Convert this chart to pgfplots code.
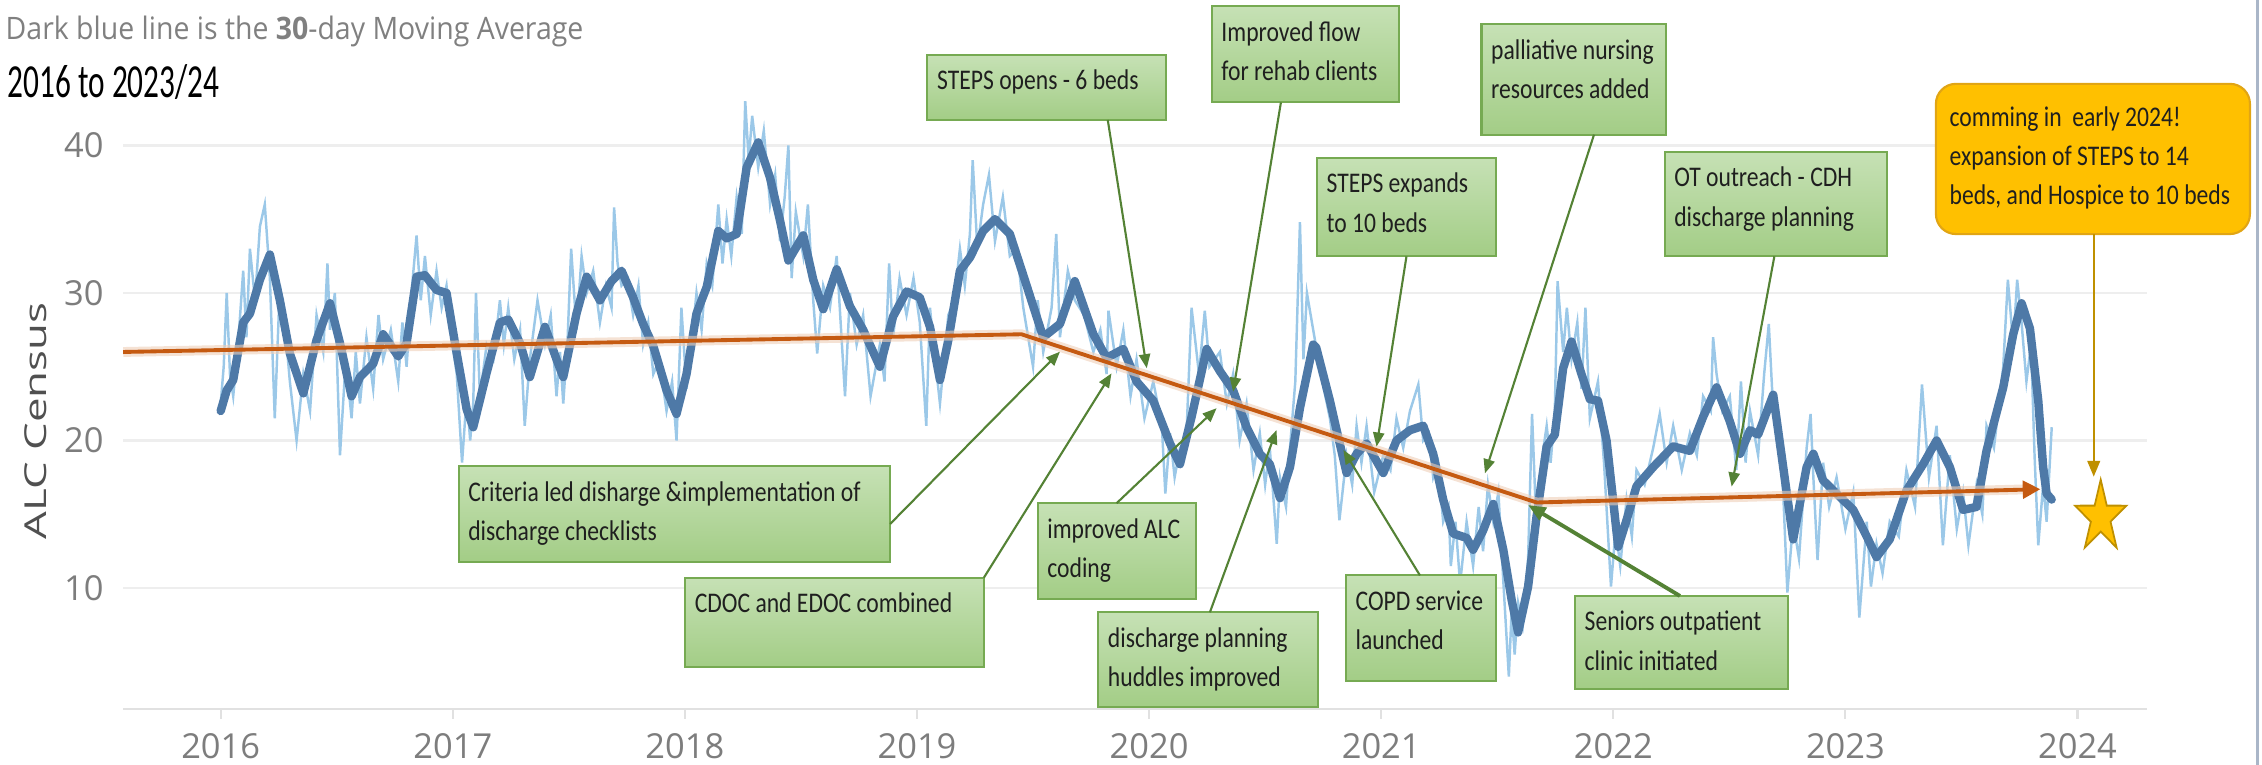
\documentclass[border=0pt]{standalone}
\usepackage{fontspec}
\usepackage{graphicx}
\usepackage{pgfplots}
\pgfplotsset{compat=1.18}
\usepackage{pgfplotstable}
\usetikzlibrary{arrows.meta}
\setmainfont{Open Sans}
\newfontfamily\annot[FakeStretch=0.83]{Carlito}
\newfontfamily\condfont[FakeStretch=0.66]{Carlito}
\newfontfamily\subfont[FakeStretch=0.92]{Open Sans}

\definecolor{mablue}{RGB}{78,121,167}
\definecolor{ltblue}{RGB}{155,200,232}
\definecolor{trend}{RGB}{197,90,17}
\definecolor{garr}{RGB}{84,130,53}
\definecolor{gborder}{RGB}{118,170,82}
\definecolor{gtop}{RGB}{198,225,181}
\definecolor{gbot}{RGB}{163,205,134}
\definecolor{goldc}{RGB}{191,144,0}
\definecolor{amber}{RGB}{255,192,0}
\definecolor{ticklab}{RGB}{125,125,125}
\definecolor{gridc}{RGB}{238,238,238}
\definecolor{axc}{RGB}{225,225,225}

\pgfplotstableread{
t v
2016.000 22.0
2016.026 23.4
2016.054 24.1
2016.097 28.0
2016.126 28.6
2016.169 30.9
2016.212 32.6
2016.255 29.5
2016.298 25.9
2016.356 23.2
2016.413 26.8
2016.471 29.3
2016.514 26.6
2016.564 23.0
2016.600 24.3
2016.657 25.2
2016.700 27.2
2016.765 25.7
2016.801 26.6
2016.844 31.1
2016.880 31.2
2016.930 30.2
2016.973 30.0
2017.017 25.9
2017.060 22.1
2017.088 20.9
2017.146 24.6
2017.203 28.0
2017.239 28.2
2017.290 26.6
2017.332 24.3
2017.397 27.7
2017.447 25.5
2017.476 24.3
2017.533 28.6
2017.577 31.1
2017.634 29.5
2017.684 30.8
2017.727 31.5
2017.777 29.7
2017.820 27.9
2017.864 26.4
2017.921 23.4
2017.964 21.8
2018.007 24.5
2018.050 28.6
2018.094 30.4
2018.144 34.2
2018.180 33.7
2018.223 34.0
2018.266 38.5
2018.316 40.2
2018.367 37.8
2018.410 34.9
2018.446 32.2
2018.510 33.9
2018.553 30.9
2018.596 28.9
2018.654 31.6
2018.711 29.1
2018.768 27.5
2018.840 25.0
2018.897 28.4
2018.955 30.1
2019.012 29.7
2019.056 27.7
2019.099 24.1
2019.135 26.8
2019.185 31.5
2019.228 32.4
2019.285 34.2
2019.336 35.0
2019.400 34.0
2019.458 31.2
2019.544 27.0
2019.616 27.9
2019.680 30.8
2019.760 27.2
2019.817 25.6
2019.889 26.2
2019.946 24.0
2020.018 22.7
2020.090 19.8
2020.133 18.4
2020.183 21.6
2020.248 26.2
2020.305 24.7
2020.362 23.4
2020.420 20.9
2020.477 19.1
2020.520 18.4
2020.564 16.1
2020.607 18.2
2020.650 22.2
2020.707 26.5
2020.720 26.3
2020.779 22.7
2020.808 20.7
2020.851 17.8
2020.894 19.1
2020.937 19.8
2021.009 17.8
2021.066 20.0
2021.124 20.7
2021.181 21.0
2021.224 19.1
2021.267 16.0
2021.310 13.7
2021.368 13.4
2021.396 12.6
2021.439 13.9
2021.483 15.7
2021.526 12.6
2021.562 9.2
2021.590 7.0
2021.633 10.1
2021.669 14.8
2021.713 19.6
2021.748 20.4
2021.784 24.9
2021.820 26.7
2021.863 24.5
2021.899 22.8
2021.934 22.7
2021.971 20.0
2021.999 16.0
2022.021 12.8
2022.057 14.6
2022.100 16.9
2022.172 18.2
2022.258 19.6
2022.330 19.3
2022.387 21.6
2022.445 23.6
2022.502 21.3
2022.546 19.1
2022.589 20.7
2022.624 20.4
2022.689 23.1
2022.732 18.2
2022.775 13.3
2022.833 18.2
2022.862 19.1
2022.904 17.3
2022.962 16.4
2023.034 15.3
2023.092 13.5
2023.134 12.1
2023.191 13.3
2023.263 16.6
2023.335 18.4
2023.393 20.0
2023.450 18.2
2023.507 15.3
2023.565 15.5
2023.608 19.3
2023.680 23.6
2023.723 27.2
2023.759 29.3
2023.795 27.6
2023.831 22.7
2023.852 18.2
2023.867 16.4
2023.889 16.0
}\matab

\pgfplotstableread{
t v
2016.000 22.5
2016.013 25.0
2016.026 30.0
2016.040 24.5
2016.054 23.0
2016.075 26.5
2016.097 31.5
2016.111 27.0
2016.126 33.0
2016.148 29.5
2016.169 34.5
2016.190 36.0
2016.212 31.0
2016.233 21.5
2016.255 30.5
2016.276 28.0
2016.298 24.0
2016.327 20.0
2016.356 24.5
2016.385 22.0
2016.413 28.5
2016.442 26.0
2016.460 32.0
2016.471 27.5
2016.492 30.0
2016.514 19.0
2016.539 25.5
2016.564 21.5
2016.582 26.0
2016.600 22.5
2016.628 27.0
2016.657 23.5
2016.680 28.5
2016.700 25.5
2016.733 27.5
2016.765 24.0
2016.783 28.0
2016.801 25.0
2016.822 30.0
2016.844 33.9
2016.862 29.5
2016.880 32.5
2016.905 28.5
2016.930 31.5
2016.952 29.0
2016.973 30.5
2016.995 27.0
2017.017 24.5
2017.040 18.5
2017.060 23.0
2017.075 20.0
2017.088 22.5
2017.100 30.0
2017.117 23.0
2017.146 26.5
2017.175 25.5
2017.203 29.5
2017.220 26.5
2017.239 29.0
2017.265 25.5
2017.290 27.5
2017.310 21.0
2017.332 25.5
2017.365 29.5
2017.397 26.5
2017.422 28.5
2017.447 23.0
2017.462 26.0
2017.476 22.5
2017.495 27.0
2017.510 33.0
2017.533 27.5
2017.555 32.5
2017.577 30.0
2017.605 31.5
2017.634 28.0
2017.660 30.5
2017.684 29.0
2017.695 35.8
2017.710 32.0
2017.727 30.5
2017.752 31.0
2017.777 28.5
2017.800 30.5
2017.820 26.5
2017.842 28.0
2017.864 24.5
2017.890 25.5
2017.921 22.0
2017.945 24.0
2017.964 20.0
2017.985 29.0
2018.007 23.5
2018.028 26.5
2018.050 30.0
2018.072 27.5
2018.094 32.0
2018.118 30.5
2018.144 36.0
2018.162 32.0
2018.180 35.0
2018.200 32.5
2018.223 36.5
2018.245 34.0
2018.260 43.0
2018.275 39.0
2018.290 42.0
2018.316 38.5
2018.340 41.0
2018.367 36.0
2018.389 38.0
2018.410 33.5
2018.430 36.5
2018.446 40.0
2018.460 31.0
2018.478 35.5
2018.510 32.5
2018.530 36.0
2018.553 29.5
2018.570 25.9
2018.596 30.5
2018.625 29.0
2018.654 32.5
2018.690 23.0
2018.711 30.0
2018.740 26.5
2018.768 28.5
2018.800 23.0
2018.840 26.5
2018.860 24.0
2018.880 32.0
2018.897 27.0
2018.925 31.0
2018.955 28.5
2018.985 31.0
2019.012 28.0
2019.040 21.0
2019.056 29.0
2019.078 25.5
2019.099 22.5
2019.117 25.5
2019.135 28.5
2019.160 29.5
2019.185 33.0
2019.206 30.5
2019.228 34.0
2019.240 39.0
2019.260 33.0
2019.285 36.0
2019.310 38.0
2019.336 33.5
2019.370 36.5
2019.400 32.5
2019.430 33.0
2019.458 29.0
2019.500 25.0
2019.520 29.5
2019.544 26.0
2019.580 29.0
2019.600 34.0
2019.616 27.0
2019.650 31.5
2019.680 29.5
2019.720 28.5
2019.760 26.0
2019.790 27.5
2019.817 24.5
2019.825 28.8
2019.860 25.0
2019.889 27.5
2019.920 23.0
2019.946 25.5
2019.980 21.5
2020.018 24.0
2020.055 21.0
2020.070 16.4
2020.090 20.5
2020.110 17.5
2020.133 19.5
2020.160 20.0
2020.183 29.0
2020.215 24.5
2020.240 28.8
2020.260 25.0
2020.305 26.0
2020.335 22.5
2020.362 24.5
2020.390 20.0
2020.420 22.5
2020.450 18.0
2020.477 20.5
2020.500 17.0
2020.520 19.5
2020.550 13.0
2020.564 17.5
2020.590 15.5
2020.607 19.5
2020.630 24.0
2020.650 34.8
2020.665 25.5
2020.680 30.0
2020.707 27.5
2020.740 24.5
2020.779 21.5
2020.800 19.0
2020.820 14.6
2020.851 19.0
2020.875 17.0
2020.894 21.0
2020.915 18.5
2020.937 21.0
2020.970 16.5
2021.009 19.0
2021.040 18.0
2021.066 21.5
2021.095 19.5
2021.124 22.0
2021.160 23.8
2021.181 20.0
2021.205 20.5
2021.224 17.5
2021.245 18.5
2021.267 14.5
2021.290 15.5
2021.300 11.5
2021.320 14.5
2021.340 10.3
2021.368 14.5
2021.396 11.5
2021.420 15.5
2021.439 12.5
2021.460 17.0
2021.483 14.5
2021.505 16.5
2021.526 10.5
2021.550 4.0
2021.562 8.5
2021.575 5.5
2021.590 9.0
2021.610 7.5
2021.633 12.0
2021.650 21.8
2021.669 14.0
2021.690 18.5
2021.713 21.0
2021.730 18.5
2021.748 22.0
2021.760 30.8
2021.784 26.0
2021.800 29.0
2021.820 25.5
2021.845 28.0
2021.863 23.5
2021.880 29.0
2021.899 21.5
2021.934 24.0
2021.960 18.5
2021.990 10.1
2022.010 14.0
2022.030 11.5
2022.057 16.0
2022.080 13.5
2022.100 18.0
2022.135 17.0
2022.172 19.5
2022.200 21.8
2022.230 18.5
2022.258 21.0
2022.295 18.0
2022.330 20.5
2022.360 19.0
2022.387 23.0
2022.420 22.0
2022.430 27.0
2022.445 24.5
2022.470 22.0
2022.502 23.0
2022.530 18.0
2022.550 24.0
2022.570 18.5
2022.589 22.0
2022.624 19.0
2022.650 24.5
2022.670 27.9
2022.689 22.0
2022.710 20.5
2022.732 16.5
2022.750 9.7
2022.775 14.5
2022.800 12.0
2022.833 19.5
2022.850 21.8
2022.862 17.5
2022.880 11.9
2022.904 18.5
2022.930 15.5
2022.962 17.5
2023.000 14.0
2023.034 16.5
2023.060 8.0
2023.092 14.5
2023.110 10.1
2023.134 13.0
2023.160 11.0
2023.191 14.5
2023.230 13.5
2023.263 18.0
2023.300 15.5
2023.330 23.8
2023.360 17.5
2023.393 21.0
2023.420 12.9
2023.450 19.0
2023.480 14.0
2023.507 16.5
2023.530 12.9
2023.565 17.0
2023.590 15.0
2023.608 21.0
2023.640 19.5
2023.680 25.0
2023.700 30.9
2023.723 26.5
2023.740 30.9
2023.759 28.0
2023.780 24.0
2023.800 26.5
2023.815 19.0
2023.831 12.9
2023.852 17.0
2023.867 14.5
2023.889 20.9
}\lttab

\pgfdeclareplotmark{bigstar}{%
  \pgftransformxscale{0.72}%
  \pgfpathmoveto{\pgfpointpolar{90}{10.7pt}}%
  \pgfpathlineto{\pgfpointpolar{126}{4.09pt}}%
  \pgfpathlineto{\pgfpointpolar{162}{10.7pt}}%
  \pgfpathlineto{\pgfpointpolar{198}{4.09pt}}%
  \pgfpathlineto{\pgfpointpolar{234}{10.7pt}}%
  \pgfpathlineto{\pgfpointpolar{270}{4.09pt}}%
  \pgfpathlineto{\pgfpointpolar{306}{10.7pt}}%
  \pgfpathlineto{\pgfpointpolar{342}{4.09pt}}%
  \pgfpathlineto{\pgfpointpolar{18}{10.7pt}}%
  \pgfpathlineto{\pgfpointpolar{54}{4.09pt}}%
  \pgfpathclose
  \pgfusepathqfillstroke
}

\tikzset{
  gbox/.style={draw=gborder, line width=0.6pt, top color=gtop, bottom color=gbot},
  garrow/.style={draw=garr, line width=0.6pt, -{Triangle[length=4pt,width=3.2pt]}},
  gtext/.style={anchor=base west, inner sep=0pt, text=black!88, font=\annot\fontsize{8.1}{8.8}\selectfont},
}
% box: x1, x2, ytop, ybottom
\newcommand\gbox[4]{\draw[gbox] (axis cs:#1,#3) rectangle (axis cs:#2,#4);}
% line: x1, ytop, index, text
\newcommand\gline[4]{\node[gtext, xshift=0.09cm, yshift={-0.35cm-(#3-1)*0.395cm}] at (axis cs:#1,#2) {#4};}

\begin{document}
\begin{tikzpicture}
\begin{axis}[
  at={(1.232cm,0.559cm)}, anchor=south west,
  width=20.239cm, height=6.375cm, scale only axis,
  xmin=2015.58, xmax=2024.30, ymin=1.8, ymax=45,
  clip=false,
  axis x line*=bottom, axis y line*=left,
  x axis line style={draw=axc, line width=0.8pt, -},
  y axis line style={draw=none, -},
  xtick={2016,2017,2018,2019,2020,2021,2022,2023,2024},
  xticklabels={2016,2017,2018,2019,2020,2021,2022,2023,2024},
  ytick={10,20,30,40}, yticklabels={10,20,30,40},
  tick align=outside, major tick length=0.1cm,
  xtick style={draw=axc, line width=0.6pt},
  ytick style={draw=none},
  ymajorgrids, grid style={draw=gridc, line width=0.8pt},
  ticklabel style={font=\fontsize{9.8}{11}\selectfont, text=ticklab, inner sep=0pt},
  yticklabel style={xshift=-0.09cm},
  xticklabel style={yshift=-0.134cm},
]
% daily census (light) and 30-day moving average (dark)
\addplot[ltblue, line width=0.7pt, line join=miter] table[x=t, y=v] {\lttab};
\addplot[mablue, line width=2.4pt, line join=round, line cap=round] table[x=t, y=v] {\matab};
% trend line
\addplot[trend!30, line width=2.8pt, opacity=0.6] coordinates {(2015.58,26.0) (2019.45,27.2) (2021.67,15.8) (2023.80,16.7)};
\addplot[trend, line width=1.1pt, line join=round, -{Triangle[length=5pt,width=5pt]}] coordinates {(2015.58,26.0) (2019.45,27.2) (2021.67,15.8) (2023.84,16.7)};
% star
\addplot[only marks, mark=bigstar, mark options={fill=amber, draw=goldc, line width=0.5pt}] coordinates {(2024.10,14.8)};

% annotation boxes
\gbox{2019.045}{2020.071}{46.13}{41.72}
\gline{2019.045}{46.13}{1}{STEPS opens - 6 beds}
\draw[garrow] (axis cs:2019.822,41.72) -- (axis cs:2019.99,24.9);

\gbox{2020.270}{2021.078}{49.44}{42.91}
\gline{2020.270}{49.44}{1}{Improved flow}
\gline{2020.270}{49.44}{2}{for rehab clients}
\draw[garrow] (axis cs:2020.568,42.91) -- (axis cs:2020.362,23.31);

\gbox{2021.432}{2022.227}{48.21}{40.73}
\gline{2021.432}{48.21}{1}{palliative nursing}
\gline{2021.432}{48.21}{2}{resources added}
\draw[garrow] (axis cs:2021.917,40.73) -- (axis cs:2021.447,17.78);

\gbox{2020.723}{2021.494}{39.17}{32.48}
\gline{2020.723}{39.17}{1}{STEPS expands}
\gline{2020.723}{39.17}{2}{to 10 beds}
\draw[garrow] (axis cs:2021.109,32.48) -- (axis cs:2020.98,19.59);

\gbox{2022.221}{2023.178}{39.57}{32.48}
\gline{2022.221}{39.57}{1}{OT outreach - CDH}
\gline{2022.221}{39.57}{2}{discharge planning}
\draw[garrow] (axis cs:2022.694,32.48) -- (axis cs:2022.51,16.88);

\gbox{2017.025}{2018.884}{18.25}{11.79}
\gline{2017.025}{18.25}{1}{Criteria led disharge \&implementation of}
\gline{2017.025}{18.25}{2}{discharge checklists}
\draw[garrow] (axis cs:2018.884,14.34) -- (axis cs:2019.616,26.02);

\gbox{2018.001}{2019.288}{10.70}{4.67}
\gline{2018.001}{10.70}{1}{CDOC and EDOC combined}
\draw[garrow] (axis cs:2019.288,10.70) -- (axis cs:2019.838,24.55);

\gbox{2019.520}{2020.202}{15.75}{9.26}
\gline{2019.520}{15.75}{1}{improved ALC}
\gline{2019.520}{15.75}{2}{coding}
\draw[garrow] (axis cs:2019.860,15.75) -- (axis cs:2020.291,22.19);

\gbox{2019.781}{2020.729}{8.36}{1.97}
\gline{2019.781}{8.36}{1}{discharge planning}
\gline{2019.781}{8.36}{2}{huddles improved}
\draw[garrow] (axis cs:2020.262,8.36) -- (axis cs:2020.549,20.71);

\gbox{2020.848}{2021.494}{10.86}{3.68}
\gline{2020.848}{10.86}{1}{COPD service}
\gline{2020.848}{10.86}{2}{launched}
\draw[garrow] (axis cs:2021.167,10.86) -- (axis cs:2020.837,19.36);

\gbox{2021.835}{2022.751}{9.47}{3.17}
\gline{2021.835}{9.47}{1}{Seniors outpatient}
\gline{2021.835}{9.47}{2}{clinic initiated}
\draw[draw=garr, line width=1.1pt, -{Triangle[length=5pt,width=4pt]}] (axis cs:2022.287,9.47) -- (axis cs:2021.633,15.63);

% orange callout
\draw[draw={rgb,255:red,225;green,165;blue,20}, fill=amber, line width=0.6pt, rounded corners=0.2cm] (axis cs:2023.39,44.17) rectangle (axis cs:2024.743,33.99);
\node[gtext, xshift=0.13cm, yshift=-0.43cm] at (axis cs:2023.39,44.17) {comming in~ early 2024!};
\node[gtext, xshift=0.13cm, yshift=-0.82cm] at (axis cs:2023.39,44.17) {expansion of STEPS to 14};
\node[gtext, xshift=0.13cm, yshift=-1.21cm] at (axis cs:2023.39,44.17) {beds, and Hospice to 10 beds};
\draw[draw=goldc, line width=0.6pt, -{Triangle[length=4.5pt,width=3.6pt]}] (axis cs:2024.07,33.99) -- (axis cs:2024.07,17.55);
\end{axis}

% titles and labels
\node[anchor=base west, inner sep=0pt, text={rgb,255:red,128;green,128;blue,128}, font=\subfont\fontsize{8.8}{10}\selectfont] at (0.05cm,7.25cm) {Dark blue line is the {\bfseries 30}-day Moving Average};
\node[anchor=base west, inner sep=0pt, font=\condfont\fontsize{13.5}{15}\selectfont] at (0.07cm,6.67cm) {2016 to 2023/24};
\node[rotate=90, inner sep=0pt, text={rgb,255:red,80;green,80;blue,80}, font=\fontsize{8.6}{10}\selectfont] at (0.36cm,3.44cm) {\scalebox{1.45}[1]{ALC Census}};
\draw[draw={rgb,255:red,170;green,182;blue,200}, line width=0.7pt] (22.575cm,0) -- (22.575cm,7.65cm);

\pgfresetboundingbox
\useasboundingbox (0,0) rectangle (22.62cm,7.65cm);
\end{tikzpicture}
\end{document}
